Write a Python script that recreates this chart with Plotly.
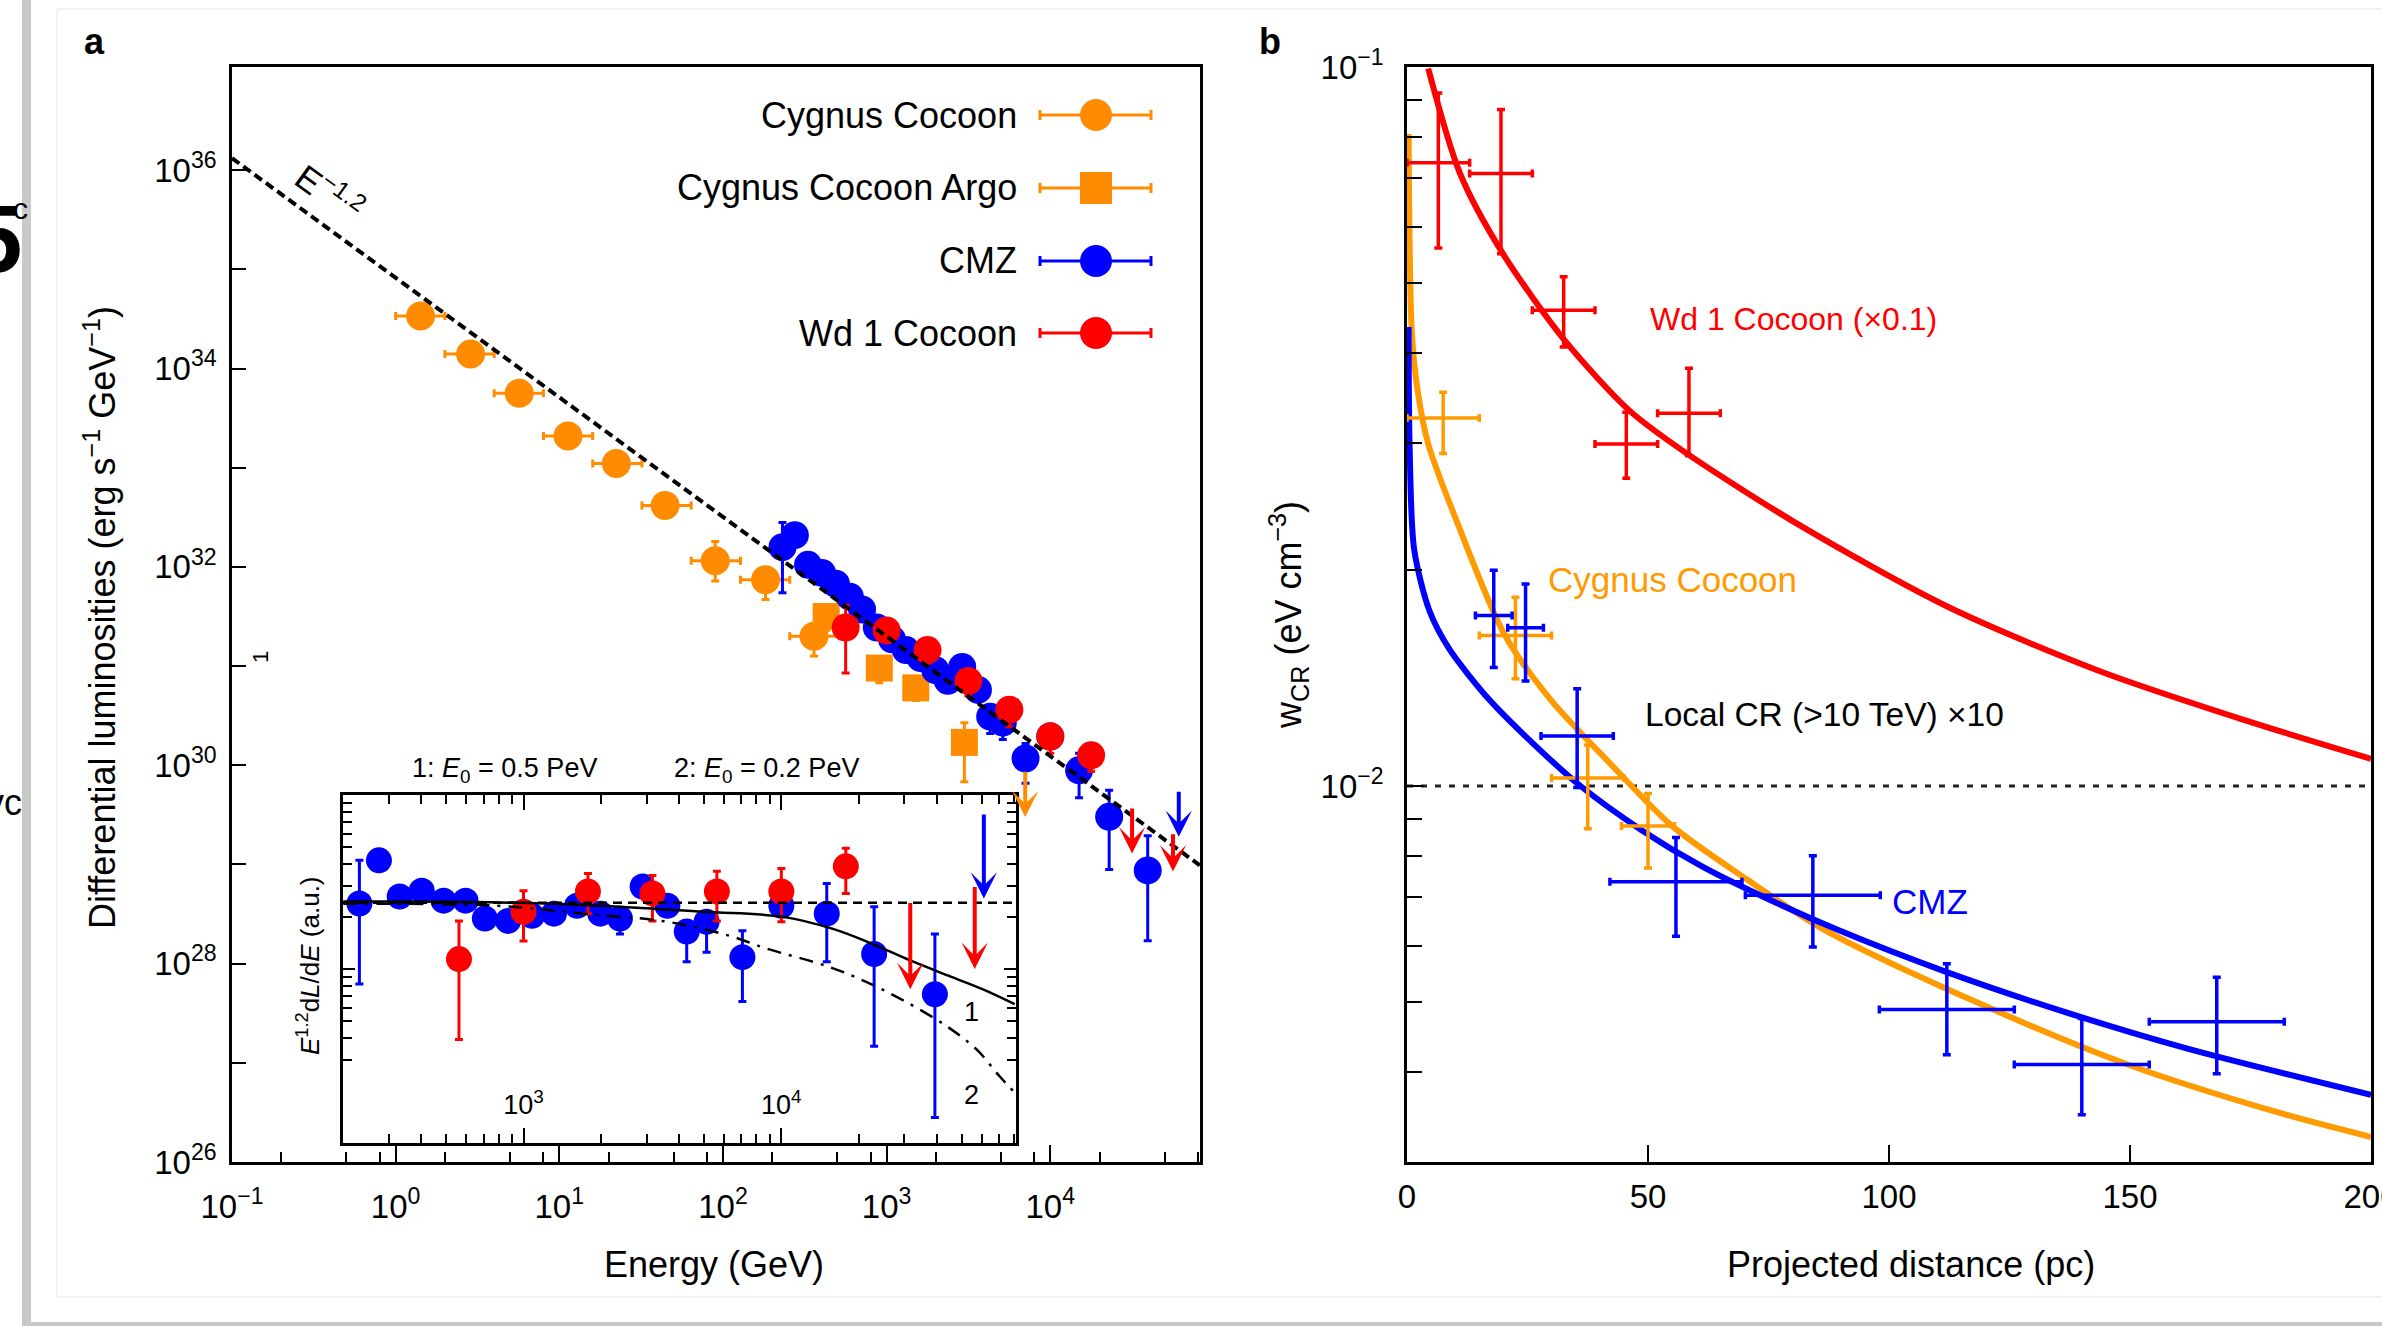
import numpy as np
import plotly.graph_objects as go

W, H = 2382, 1326
FONT = "Liberation Sans, Arial, Helvetica, sans-serif"
ORANGE = "#FF8C00"
ORANGE_B = "#FF9A00"
BLUE = "#0000FF"
RED = "#FF0000"

# ---------------- Panel a : differential luminosities ----------------
cyg_E    = [1.42, 2.87, 5.69, 11.3, 22.3, 44.3, 89.7, 182, 360]
cyg_E_lo = [1.0, 2.0, 4.0, 8.0, 16.0, 32.0, 64.0, 128.0, 256.0]
cyg_E_hi = [2.0, 4.0, 8.0, 16.0, 32.0, 64.0, 128.0, 256.0, 512.0]
cyg_L    = [3.39e34, 1.40e34, 5.62e33, 2.09e33, 1.10e33, 4.17e32, 1.15e32, 7.41e31, 2.00e31]
cyg_L_lo = [3.15e34, 1.30e34, 5.20e33, 1.93e33, 1.01e33, 3.85e32, 7.20e31, 4.70e31, 1.26e31]
cyg_L_hi = [3.65e34, 1.51e34, 6.05e33, 2.26e33, 1.19e33, 4.50e32, 1.80e32, 9.80e31, 2.60e31]

argo_E    = [427, 902, 1507, 2987]
argo_L    = [3.16e31, 9.55e30, 6.03e30, 1.70e30]
argo_L_lo = [2.30e31, 6.80e30, 4.50e30, 6.80e29]
argo_L_hi = [4.00e31, 1.15e31, 7.00e30, 2.69e30]
argo_ul_E, argo_ul_top, argo_ul_tip = [7030], [8.9e29], [3.0e29]

cmz_E = [231, 275, 331, 403, 490, 596, 708, 871, 1079, 1312, 1614, 1986, 2366,
         2897, 3614, 4295, 5129, 7063, 10000, 15000, 22900, 39400]
cmz_L = [1.58e32, 2.09e32, 1.05e32, 8.7e31, 6.76e31, 5.01e31, 3.72e31, 2.45e31,
         1.86e31, 1.45e31, 1.20e31, 9.1e30, 7.1e30, 9.8e30, 5.75e30, 3.09e30,
         2.69e30, 1.17e30, 1.95e30, 8.9e29, 3.02e29, 8.7e28]
cmz_L_lo = [5.5e31, 1.9e32, 9.5e31, 7.9e31, 6.1e31, 4.5e31, 3.3e31, 2.2e31,
            1.67e31, 1.3e31, 1.07e31, 8.1e30, 5.8e30, 8.8e30, 5.1e30, 2.09e30,
            1.82e30, 6.6e29, 1.6e30, 4.7e29, 8.9e28, 1.7e28]
cmz_L_hi = [2.8e32, 2.3e32, 1.16e32, 9.6e31, 7.5e31, 5.6e31, 4.15e31, 2.75e31,
            2.08e31, 1.62e31, 1.35e31, 1.02e31, 7.9e30, 1.09e31, 6.4e30, 3.5e30,
            3.0e30, 1.66e30, 2.3e30, 1.32e30, 5.6e29, 1.95e29]
cmz_ul_E, cmz_ul_top, cmz_ul_tip = [61000], [5.6e29], [1.9e29]

wd1_E    = [562, 1000, 1778, 3162, 5623, 10000, 17783]
wd1_L    = [2.45e31, 2.29e31, 1.45e31, 7.08e30, 3.63e30, 1.95e30, 1.26e30]
wd1_L_lo = [8.5e30, 1.75e31, 1.07e31, 5.0e30, 2.45e30, 1.32e30, 8.7e29]
wd1_L_hi = [4.1e31, 3.0e31, 1.83e31, 8.9e30, 4.8e30, 2.6e30, 1.6e30]
wd1_ul_E, wd1_ul_top, wd1_ul_tip = [31623, 56234], [3.8e29, 2.09e29], [1.29e29, 8.5e28]

pl_E = [0.1, 82000]          # E^-1.2 reference line end points
pl_L = [1.32e36, 9.8e28]

# ---------------- Inset : E^1.2 dL/dE (a.u.) ----------------
ins_cmz_y  = [23.8, 42.1, 26.1, 28.2, 24.7, 24.7, 19.5, 18.9, 20.2, 20.8, 23.1,
              20.8, 19.5, 29.8, 23.1, 16.4, 18.7, 11.7, 23.1, 20.8, 12.2, 7.16]
ins_cmz_lo = [8.2, 39.5, 24.5, 26.5, 23.2, 23.2, 18.3, 17.8, 19.0, 19.5, 21.7,
              19.5, 15.9, 28.0, 21.2, 11.0, 12.5, 6.5, 20.4, 11.0, 3.6, 1.4]
ins_cmz_hi = [42.1, 44.8, 27.8, 30.0, 26.3, 26.3, 20.8, 20.1, 21.5, 22.1, 24.6,
              22.1, 20.8, 31.7, 25.1, 17.8, 20.0, 16.6, 26.1, 31.0, 22.8, 15.9]
ins_wd1_y  = [11.4, 21.3, 27.9, 27.2, 27.9, 27.9, 38.9]
ins_wd1_lo = [3.94, 14.5, 20.8, 18.9, 18.9, 18.7, 27.2]
ins_wd1_hi = [18.9, 28.2, 35.4, 34.5, 36.4, 37.8, 49.4]
ins_wd1_ul_top, ins_wd1_ul_tip = [24.4, 30.2], [7.66, 10.0]
ins_cmz_ul_top, ins_cmz_ul_tip = [78.7], [25.4]
ins_ref = 24.0
curve1_E = [200, 631, 1995, 5012, 10000, 15849, 22387, 31623, 44668, 60256, 80353]
curve1_y = [24.4, 24.3, 23.1, 21.3, 20.0, 17.0, 14.0, 11.2, 9.12, 7.66, 6.28]
curve2_E = [200, 794, 1698, 3597, 6310, 8770, 15000, 21430, 30620, 43750, 57150, 70310, 80350]
curve2_y = [23.7, 23.1, 20.8, 18.7, 15.5, 13.1, 10.4, 8.41, 6.44, 4.69, 3.45, 2.41, 1.95]

# ---------------- Panel b : w_CR vs projected distance ----------------
wd1_r    = [6.5, 19.5, 32.5, 45.5, 58.5]
wd1_rerr = [6.5, 6.5, 6.5, 6.5, 6.5]
wd1_w    = [0.0736, 0.0711, 0.0459, 0.0299, 0.0330]
wd1_w_lo = [0.0560, 0.0550, 0.0408, 0.0268, 0.0288]
wd1_w_hi = [0.0920, 0.0873, 0.0511, 0.0331, 0.0381]

cygb_r    = [7.5, 22.5, 37.5, 50.0]
cygb_rerr = [7.5, 7.5, 7.5, 5.5]
cygb_w    = [0.0325, 0.0162, 0.01026, 0.0088]
cygb_w_lo = [0.0290, 0.0141, 0.00872, 0.00769]
cygb_w_hi = [0.0353, 0.0183, 0.0114, 0.00976]

cmzb_r    = [18.0, 24.6, 35.3, 55.8, 84.2, 112.0, 140.0, 168.0]
cmzb_rerr = [3.8, 3.7, 7.5, 13.7, 14.0, 14.0, 14.0, 14.0]
cmzb_w    = [0.01726, 0.0166, 0.01174, 0.00736, 0.00705, 0.00489, 0.0041, 0.0047]
cmzb_w_lo = [0.01462, 0.0140, 0.00995, 0.00618, 0.00597, 0.00423, 0.00349, 0.00398]
cmzb_w_hi = [0.01995, 0.0191, 0.01365, 0.00848, 0.0080, 0.00566, 0.00475, 0.00542]

wd1c_r = [4.4, 11.0, 19.9, 32.8, 46.1, 57.1, 81.7, 112.3, 143.2, 174.1, 200.0]
wd1c_w = [0.0995, 0.0711, 0.0550, 0.0416, 0.0333, 0.0293, 0.0230, 0.01774, 0.01449, 0.01233, 0.01091]
cmzc_r = [0.33, 0.56, 1.5, 4.7, 8.8, 17.0, 26.5, 36.0, 48.6, 61.2, 73.8, 89.6, 111.7, 136.9, 162.1, 200.0]
cmzc_w = [0.0435, 0.0293, 0.0213, 0.0175, 0.0155, 0.0132, 0.0114, 0.0100, 0.00869,
          0.00773, 0.00702, 0.00630, 0.00552, 0.00484, 0.00431, 0.00372]
cygc_r = [0.33, 1.0, 2.2, 4.4, 10.7, 20.2, 29.7, 42.3, 54.9, 70.7, 86.4, 118.0, 149.5, 181.1, 200.0]
cygc_w = [0.0807, 0.0427, 0.0355, 0.0299, 0.0230, 0.01626, 0.01321, 0.01072, 0.00881,
          0.00740, 0.00632, 0.00501, 0.00410, 0.00351, 0.00325]
local_cr = 0.01

legend_names = ["Cygnus Cocoon", "Cygnus Cocoon Argo", "CMZ", "Wd 1 Cocoon"]
legend_colors = [ORANGE, ORANGE, BLUE, RED]
legend_symbols = ["circle", "square", "circle", "circle"]

# ---------------- geometry (pixels) ----------------
A_L, A_R = 232, 1200
B_L, B_R = 1407, 2371
TOP, BOT = 67, 1162
IN_L, IN_R, IN_T, IN_B = 343, 1016, 795, 1143


def px(x):
    return x / W


def py(y):
    return 1 - y / H


fig = go.Figure()


def errs(v, lo, hi, color, thick=3, width=4):
    if lo is None:
        return None
    return dict(type="data", symmetric=False,
                array=[h - c for h, c in zip(hi, v)],
                arrayminus=[c - l for c, l in zip(v, lo)],
                color=color, thickness=thick, width=width)


def points(x, y, color, symbol, size, xa, ya, xlo=None, xhi=None, ylo=None, yhi=None,
           thick=3, width=4):
    fig.add_trace(go.Scatter(
        x=x, y=y, mode="markers", xaxis=xa, yaxis=ya,
        marker=dict(color=color, symbol=symbol, size=size, line=dict(width=0)),
        error_x=errs(x, xlo, xhi, color, thick, width),
        error_y=errs(y, ylo, yhi, color, thick, width),
        showlegend=False, hoverinfo="skip", cliponaxis=True))


annotations = []


def arrows(E, top, tip, color, xr, yr):
    for e, t, b in zip(E, top, tip):
        annotations.append(dict(
            x=np.log10(e), y=np.log10(b), ax=np.log10(e), ay=np.log10(t),
            xref=xr, yref=yr, axref=xr, ayref=yr, text="", showarrow=True,
            arrowhead=3, arrowsize=1.1, arrowwidth=4, arrowcolor=color, standoff=0))


def text(t, x, y, size, color="black", angle=0, xanchor="center", bold=False):
    annotations.append(dict(
        text=("<b>%s</b>" % t) if bold else t, x=px(x), y=py(y), xref="paper", yref="paper",
        showarrow=False, textangle=angle, xanchor=xanchor, yanchor="middle",
        font=dict(family=FONT, size=size, color=color)))


# ---- panel a main traces
points(cyg_E, cyg_L, ORANGE, "circle", 29, "x", "y",
       xlo=cyg_E_lo, xhi=cyg_E_hi, ylo=cyg_L_lo, yhi=cyg_L_hi)
points(argo_E, argo_L, ORANGE, "square", 27, "x", "y", ylo=argo_L_lo, yhi=argo_L_hi)
points(cmz_E, cmz_L, BLUE, "circle", 28, "x", "y", ylo=cmz_L_lo, yhi=cmz_L_hi)
points(wd1_E, wd1_L, RED, "circle", 28, "x", "y", ylo=wd1_L_lo, yhi=wd1_L_hi)
fig.add_trace(go.Scatter(x=pl_E, y=pl_L, mode="lines", xaxis="x", yaxis="y",
                         line=dict(color="black", width=4, dash="9px,5px"),
                         showlegend=False, hoverinfo="skip"))
arrows(argo_ul_E, argo_ul_top, argo_ul_tip, ORANGE, "x", "y")
arrows(cmz_ul_E, cmz_ul_top, cmz_ul_tip, BLUE, "x", "y")
arrows(wd1_ul_E, wd1_ul_top, wd1_ul_tip, RED, "x", "y")

# ---- panel b traces
fig.add_trace(go.Scatter(x=wd1c_r, y=wd1c_w, mode="lines", xaxis="x2", yaxis="y2",
                         line=dict(color=RED, width=6, shape="spline", smoothing=0.8),
                         showlegend=False, hoverinfo="skip"))
fig.add_trace(go.Scatter(x=cygc_r, y=cygc_w, mode="lines", xaxis="x2", yaxis="y2",
                         line=dict(color=ORANGE_B, width=6, shape="spline", smoothing=0.8),
                         showlegend=False, hoverinfo="skip"))
fig.add_trace(go.Scatter(x=cmzc_r, y=cmzc_w, mode="lines", xaxis="x2", yaxis="y2",
                         line=dict(color=BLUE, width=6, shape="spline", smoothing=0.8),
                         showlegend=False, hoverinfo="skip"))
points(wd1_r, wd1_w, RED, "circle", 1, "x2", "y2",
       xlo=[r - e for r, e in zip(wd1_r, wd1_rerr)], xhi=[r + e for r, e in zip(wd1_r, wd1_rerr)],
       ylo=wd1_w_lo, yhi=wd1_w_hi, thick=3.5, width=4)
points(cygb_r, cygb_w, ORANGE_B, "circle", 1, "x2", "y2",
       xlo=[r - e for r, e in zip(cygb_r, cygb_rerr)], xhi=[r + e for r, e in zip(cygb_r, cygb_rerr)],
       ylo=cygb_w_lo, yhi=cygb_w_hi, thick=3.5, width=4)
points(cmzb_r, cmzb_w, BLUE, "circle", 1, "x2", "y2",
       xlo=[r - e for r, e in zip(cmzb_r, cmzb_rerr)], xhi=[r + e for r, e in zip(cmzb_r, cmzb_rerr)],
       ylo=cmzb_w_lo, yhi=cmzb_w_hi, thick=3.5, width=4)

# ---- inset traces
points(cmz_E, ins_cmz_y, BLUE, "circle", 26, "x3", "y3", ylo=ins_cmz_lo, yhi=ins_cmz_hi)
points(wd1_E, ins_wd1_y, RED, "circle", 26, "x3", "y3", ylo=ins_wd1_lo, yhi=ins_wd1_hi)
fig.add_trace(go.Scatter(x=curve1_E, y=curve1_y, mode="lines", xaxis="x3", yaxis="y3",
                         line=dict(color="black", width=2.5, shape="spline"),
                         showlegend=False, hoverinfo="skip"))
fig.add_trace(go.Scatter(x=curve2_E, y=curve2_y, mode="lines", xaxis="x3", yaxis="y3",
                         line=dict(color="black", width=2.5, shape="spline", dash="14px,8px,3px,8px"),
                         showlegend=False, hoverinfo="skip"))
arrows(wd1_ul_E, ins_wd1_ul_top, ins_wd1_ul_tip, RED, "x3", "y3")
arrows(cmz_ul_E, ins_cmz_ul_top, ins_cmz_ul_tip, BLUE, "x3", "y3")

shapes = []
# inset reference (flat E^-1.2) dashed line
shapes.append(dict(type="line", xref="x3 domain", yref="y3", x0=0, x1=1, y0=ins_ref, y1=ins_ref,
                   line=dict(color="black", width=2.5, dash="9px,6px"), layer="above"))
# panel b local CR dotted line
shapes.append(dict(type="line", xref="x2 domain", yref="y2", x0=0, x1=1, y0=local_cr, y1=local_cr,
                   line=dict(color="#222222", width=3, dash="6px,8px"), layer="below"))

# ---- manual legend (panel a)
leg_y = [115, 188, 261, 333]
for name, col, sym, yy in zip(legend_names, legend_colors, legend_symbols, leg_y):
    text(name, 1019, yy, 36, xanchor="right")
    shapes.append(dict(type="line", xref="paper", yref="paper", x0=px(1040), x1=px(1151),
                       y0=py(yy), y1=py(yy), line=dict(color=col, width=3), layer="above"))
    for cx in (1040, 1151):
        shapes.append(dict(type="line", xref="paper", yref="paper", x0=px(cx), x1=px(cx),
                           y0=py(yy - 5), y1=py(yy + 5), line=dict(color=col, width=3), layer="above"))
    shapes.append(dict(type="circle" if sym == "circle" else "rect", xref="paper", yref="paper",
                       x0=px(1096 - 16), x1=px(1096 + 16), y0=py(yy + 16), y1=py(yy - 16),
                       fillcolor=col, line=dict(width=0), layer="above"))

# ---- page artefacts at the left / bottom edge of the screenshot
shapes.append(dict(type="rect", xref="paper", yref="paper", x0=px(22), x1=px(31), y0=0, y1=1,
                   fillcolor="#c9c9c9", line=dict(width=0), layer="above"))
shapes.append(dict(type="rect", xref="paper", yref="paper", x0=px(22), x1=1, y0=0, y1=py(1322),
                   fillcolor="#c9c9c9", line=dict(width=0), layer="above"))
for (x0, y0, x1, y1) in [(57, 9, 2382, 9), (57, 9, 57, 1297), (57, 1297, 2382, 1297)]:
    shapes.append(dict(type="line", xref="paper", yref="paper", x0=px(x0), x1=px(x1),
                       y0=py(y0), y1=py(y1), line=dict(color="#eeeeee", width=1.5), layer="above"))
text("5", 24, 238, 96, xanchor="right", bold=True)
text("c", 30, 208, 30, xanchor="right")
text("vc", 24, 802, 36, xanchor="right")

# ---- texts
text("a", 94, 41, 36, bold=True)
text("b", 1270, 41, 36, bold=True)
text("Energy (GeV)", 714, 1264, 36)
text("Differential luminosities (erg s<sup>\u22121</sup> GeV<sup>\u22121</sup>)", 100, 618, 36, angle=-90)
text("Projected distance (pc)", 1911, 1264, 36)
text("w<sub>CR</sub> (eV cm<sup>\u22123</sup>)", 1288, 615, 36, angle=-90)
text("E<sup>\u22121.2</sup>", 330, 192, 35, angle=36)
text("1", 260, 657, 22, angle=-90)
text("1: <i>E</i><sub>0</sub> = 0.5 PeV", 504, 770, 27)
text("2: <i>E</i><sub>0</sub> = 0.2 PeV", 766, 770, 27)
text("<i>E</i><sup>1.2</sup>d<i>L</i>/d<i>E</i> (a.u.)", 308, 966, 26, angle=-90)
text("1", 971, 1012, 27)
text("2", 971, 1095, 27)
text("Wd 1 Cocoon (\u00d70.1)", 1648, 319, 32, color=RED, xanchor="left")
text("Cygnus Cocoon", 1546, 579, 35, color=ORANGE_B, xanchor="left")
text("Local CR (>10 TeV) \u00d710", 1643, 714, 33.5, xanchor="left")
text("CMZ", 1890, 901, 35, color=BLUE, xanchor="left")

# ---------------- axes ----------------
tickfont = dict(family=FONT, size=33, color="black")
common = dict(showline=True, linecolor="black", linewidth=2.5, mirror=True, ticks="inside",
              tickcolor="black", tickwidth=2, showgrid=False, zeroline=False, automargin=False)

dec_a = [10.0 ** k for k in range(-1, 5)]
sup = {-1: "\u22121", 0: "0", 1: "1", 2: "2", 3: "3", 4: "4"}
xa_ticktext = ["10<sup>%s</sup>" % sup[k] for k in range(-1, 5)]
xa_minor = [m * 10.0 ** k for k in range(-1, 5) for m in (2, 5, 8) if m * 10.0 ** k < 82000]
ya_vals = [10.0 ** k for k in range(26, 37)]
ya_text = [("10<sup>%d</sup>" % k) if k % 2 == 0 else "" for k in range(26, 37)]

in_minor_x = [m * 10.0 ** k for k in range(2, 5) for m in range(2, 10) if 200 <= m * 10.0 ** k <= 81000]
in_minor_y = [m * 10.0 ** k for k in range(0, 2) for m in range(2, 10)]

b_minor_y = [m * 1e-3 for m in range(3, 10)] + [m * 1e-2 for m in range(2, 10)]

fig.update_layout(
    width=W, height=H, margin=dict(l=0, r=0, t=0, b=0, autoexpand=False),
    paper_bgcolor="white", plot_bgcolor="white", showlegend=False,
    font=dict(family=FONT, color="black"),
    xaxis=dict(common, type="log", range=[-1, 4.915], domain=[px(A_L), px(A_R)], anchor="y",
               tickvals=dec_a, ticktext=xa_ticktext, ticklen=17, tickfont=tickfont,
               ticklabelstandoff=14,
               minor=dict(tickvals=xa_minor, ticks="inside", ticklen=10, tickwidth=2,
                          tickcolor="black", showgrid=False)),
    yaxis=dict(common, type="log", range=[26, 37.04], domain=[py(BOT), py(TOP)], anchor="x",
               tickvals=ya_vals, ticktext=ya_text, ticklen=14, tickfont=tickfont,
               ticklabelstandoff=6),
    xaxis2=dict(common, type="linear", range=[0, 200], domain=[px(B_L), px(B_R)], anchor="y2",
                tickvals=[0, 50, 100, 150, 200], ticktext=["0", "50", "100", "150", "200"],
                ticklen=17, tickfont=tickfont, ticklabelstandoff=4, ticklabeloverflow="allow"),
    yaxis2=dict(common, type="log", range=[np.log10(0.003), -1], domain=[py(BOT), py(TOP)],
                anchor="x2", tickvals=[0.01, 0.1],
                ticktext=["10<sup>\u22122</sup>", "10<sup>\u22121</sup>"], ticklen=17,
                tickfont=tickfont, ticklabelstandoff=14,
                minor=dict(tickvals=b_minor_y, ticks="inside", ticklen=15, tickwidth=2,
                           tickcolor="black", showgrid=False)),
    xaxis3=dict(common, type="log", range=[2.30, 4.91], domain=[px(IN_L), px(IN_R)], anchor="y3",
                mirror="allticks", tickvals=[1e3, 1e4],
                ticktext=["10<sup>3</sup>", "10<sup>4</sup>"], ticklen=15,
                ticklabelposition="inside", ticklabelstandoff=11,
                tickfont=dict(family=FONT, size=27, color="black"),
                minor=dict(tickvals=in_minor_x, ticks="inside", ticklen=9, tickwidth=2,
                           tickcolor="black", showgrid=False)),
    yaxis3=dict(common, type="log", range=[0, 2.0], domain=[py(IN_B), py(IN_T)], anchor="x3",
                mirror="allticks", tickvals=[1, 10, 100], showticklabels=False, ticklen=12,
                minor=dict(tickvals=in_minor_y, ticks="inside", ticklen=9, tickwidth=2,
                           tickcolor="black", showgrid=False)),
    shapes=shapes,
    annotations=annotations,
)

fig.write_html("out.html")
